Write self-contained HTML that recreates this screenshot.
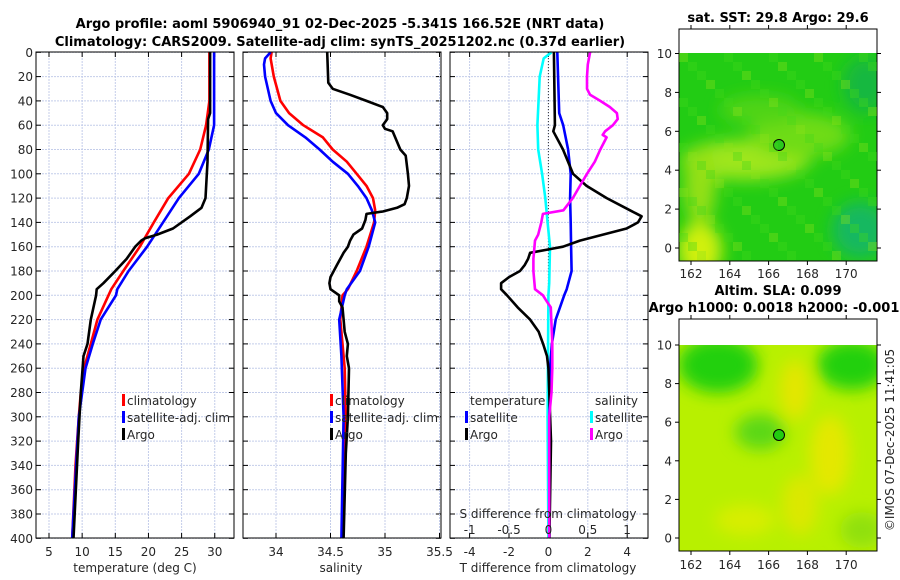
<!DOCTYPE html>
<html><head><meta charset="utf-8"><style>
html,body{margin:0;padding:0;background:#fff;}
svg{display:block;font-family:"DejaVu Sans","Liberation Sans",sans-serif;}
.t{font-size:12px;fill:#262626;}
.b{font-weight:bold;font-size:13px;fill:#000;}
</style></head><body>
<svg id="c" width="900" height="580" viewBox="0 0 900 580" xmlns="http://www.w3.org/2000/svg">
<defs>
<filter id="bl" x="-50%" y="-50%" width="200%" height="200%"><feGaussianBlur stdDeviation="8"/></filter>
<clipPath id="m1c"><rect x="679" y="53" width="198" height="208"/></clipPath>
<clipPath id="m2c"><rect x="679" y="345" width="198" height="206"/></clipPath>
</defs>
<text class="b" x="340" y="28" text-anchor="middle">Argo profile: aoml 5906940_91 02-Dec-2025 -5.341S 166.52E (NRT data)</text>
<text class="b" x="340" y="46" text-anchor="middle">Climatology: CARS2009. Satellite-adj clim: synTS_20251202.nc (0.37d earlier)</text>
<g id="plots"></g>
<!-- Map 1 -->
<g>
<rect x="679" y="29" width="198" height="232" fill="#fff" stroke="#000"/>
<g clip-path="url(#m1c)">
<rect x="679" y="53" width="198" height="208" fill="#22cc14"/>
<g filter="url(#bl)">
<ellipse cx="745" cy="160" rx="65" ry="20" fill="#9ee61a"/>
<ellipse cx="800" cy="135" rx="50" ry="22" fill="#6edc18"/>
<ellipse cx="760" cy="110" rx="40" ry="15" fill="#50d418"/>
<ellipse cx="700" cy="250" rx="22" ry="28" fill="#d0f010"/>
<ellipse cx="700" cy="185" rx="16" ry="40" fill="#94e018"/>
<ellipse cx="860" cy="230" rx="28" ry="28" fill="#14b860"/>
<ellipse cx="865" cy="85" rx="22" ry="28" fill="#18b840"/>
</g>
</g>
<rect x="679" y="29" width="198" height="232" fill="none" stroke="#000"/>
<circle cx="779" cy="145" r="5.5" fill="#2ac81c" stroke="#000"/>
<text class="b" x="778" y="22" text-anchor="middle">sat. SST: 29.8 Argo: 29.6</text>
</g>
<!-- Map 2 -->
<g>
<rect x="679" y="319" width="198" height="232" fill="#fff" stroke="#000"/>
<g clip-path="url(#m2c)">
<rect x="679" y="345" width="198" height="206" fill="#b8f000"/>
<g filter="url(#bl)">
<ellipse cx="718" cy="365" rx="40" ry="28" fill="#20d010"/>
<ellipse cx="852" cy="365" rx="35" ry="25" fill="#20d010"/>
<ellipse cx="760" cy="432" rx="25" ry="18" fill="#5cd818"/>
<ellipse cx="830" cy="455" rx="20" ry="40" fill="#e4e800"/>
<ellipse cx="795" cy="390" rx="15" ry="30" fill="#e4e600"/>
<ellipse cx="800" cy="505" rx="18" ry="30" fill="#dce800"/>
<ellipse cx="745" cy="520" rx="30" ry="15" fill="#d8ee00"/>
<ellipse cx="862" cy="530" rx="22" ry="18" fill="#90e010"/>
</g>
</g>
<rect x="679" y="319" width="198" height="232" fill="none" stroke="#000"/>
<circle cx="779" cy="435" r="5.5" fill="#22cc10" stroke="#000"/>
<text class="b" x="778" y="295" text-anchor="middle">Altim. SLA: 0.099</text>
<text class="b" x="774" y="312" text-anchor="middle">Argo h1000: 0.0018 h2000: -0.001</text>
</g>
<text class="t" transform="translate(894,440) rotate(-90)" text-anchor="middle">©IMOS 07-Dec-2025 11:41:05</text>
</svg>
<script>
// ---- data ----
const depthTicks=[0,20,40,60,80,100,120,140,160,180,200,220,240,260,280,300,320,340,360,380,400];
const tempTicks=[5,10,15,20,25,30];
const salTicks=[34,34.5,35,35.5];
const tdTicks=[-4,-2,0,2,4];
const sdTicks=[-1,-0.5,0,0.5,1];
const sdTickLabels=["-1","-0.5","0","0.5","1"];
const tClimDepth=[0,40,60,80,100,120,140,160,180,195,220,240,260,280,300,340,400];
const tClim=[29.2,29.2,28.7,27.8,26.1,23.0,20.8,18.7,16.2,14.4,12.3,11.3,10.3,9.8,9.5,9.0,8.5];
const tSatDepth=[0,60,80,100,120,140,160,180,195,200,220,240,260,280,300,400];
const tSat=[29.9,29.9,29.1,27.6,24.6,22.2,19.8,17.0,15.3,15.1,12.8,11.6,10.5,10.0,9.5,8.5];
const tArgoDepth=[0,50,55,90,120,128,135,145,150,153,155,160,170,180,190,195,200,220,240,250,280,320,400];
const tArgo=[29.3,29.3,29.0,28.9,28.6,28.0,26.3,23.7,21.3,19.5,18.9,18.0,16.7,15.0,13.2,12.2,12.1,11.3,10.8,10.2,9.8,9.4,8.7];
const sClimDepth=[0,5,20,40,50,60,70,80,90,100,110,120,130,140,160,180,195,200,220,240,260,300,400];
const sClim=[33.96,33.95,33.98,34.04,34.12,34.25,34.43,34.52,34.65,34.74,34.83,34.89,34.91,34.9,34.83,34.74,34.66,34.61,34.59,34.61,34.63,34.64,34.61];
const sSatDepth=[0,5,10,20,40,50,60,70,80,90,100,110,120,130,140,160,180,195,200,220,250,300,400];
const sSat=[33.95,33.9,33.89,33.9,33.95,34.0,34.11,34.27,34.4,34.52,34.66,34.75,34.83,34.88,34.91,34.85,34.77,34.65,34.63,34.58,34.6,34.62,34.6];
const sArgoDepth=[0,25,30,35,40,45,50,55,60,63,65,80,85,100,110,120,125,128,131,133,138,145,150,155,160,165,175,185,190,195,200,205,210,230,240,250,260,300,330,400];
const sArgo=[34.47,34.48,34.52,34.68,34.83,34.98,35.02,35.02,34.98,35.0,35.07,35.14,35.19,35.21,35.22,35.2,35.18,35.11,34.98,34.83,34.82,34.79,34.71,34.68,34.66,34.62,34.56,34.5,34.49,34.5,34.58,34.58,34.61,34.63,34.66,34.65,34.67,34.66,34.64,34.62];
const dSsatDepth=[0,5,20,60,80,100,120,140,160,190,200,300,400];
const dSsat=[0.04,-0.06,-0.11,-0.14,-0.13,-0.08,-0.04,-0.01,0.02,0.01,0,-0.01,0];
const dTsatDepth=[0,50,60,80,100,120,140,160,180,195,200,220,240,260,300,400];
const dTsat=[0.45,0.55,0.75,1.0,1.13,1.1,1.13,1.15,1.18,0.93,0.8,0.37,0.18,0.08,0.05,0.05];
const dTargoDepth=[0,60,65,80,100,110,120,130,135,140,145,150,155,160,162,165,170,175,180,185,190,195,200,210,220,230,240,250,260,320,400];
const dTargo=[0.28,0.33,0.25,0.74,1.25,1.94,2.96,4.14,4.73,4.55,3.97,2.77,1.6,0.74,0.08,-0.93,-1.03,-1.2,-1.44,-2.0,-2.4,-2.4,-2.1,-1.56,-0.93,-0.49,-0.27,-0.07,0,0.13,0.05];
const dSargoDepth=[0,10,20,30,35,40,45,50,55,60,65,68,70,80,90,100,110,120,125,130,133,140,150,155,170,180,195,200,205,210,240,260,280,300,400];
const dSargo=[0.53,0.5,0.49,0.49,0.53,0.66,0.78,0.87,0.88,0.82,0.72,0.69,0.74,0.66,0.59,0.49,0.4,0.31,0.25,0.19,-0.07,-0.09,-0.13,-0.17,-0.19,-0.19,-0.17,-0.07,-0.02,0.03,0.05,0.05,0.04,0.01,0.01];
const mapLatTicks=[0,2,4,6,8,10];
const mapLonTicks=[162,164,166,168,170];

// ---- scales ----
const Y=d=>52.3+d*1.215;
const XT=t=>49+(t-5)*6.63;
const XS=s=>276+(s-34)*109;
const XD=t=>548.4+t*19.7;
const XSD=s=>548.4+s*78.7;
const NS="http://www.w3.org/2000/svg";
const root=document.getElementById('plots');
function mk(tag,at,parent){const e=document.createElementNS(NS,tag);for(const k in at)e.setAttribute(k,at[k]);(parent||root).appendChild(e);return e;}

const panels=[
 {x0:36,x1:234,name:'temperature-panel',ticks:tempTicks,sx:XT,label:'temperature (deg C)',lx:135},
 {x0:243,x1:441,name:'salinity-panel',ticks:salTicks,sx:XS,label:'salinity',lx:341},
 {x0:450,x1:648,name:'difference-panel',ticks:tdTicks,sx:XD,label:'T difference from climatology',lx:548}
];
panels.forEach((p,pi)=>{
 const g=mk('g',{});
 
 
 depthTicks.forEach(d=>{
  const l=mk('line',{x1:p.x0,x2:p.x1,y1:Y(d),y2:Y(d),stroke:'#c4cdea','stroke-width':1,'stroke-dasharray':'2,1'},g);
  
  
  mk('line',{x1:p.x0,x2:p.x0+5,y1:Y(d),y2:Y(d),stroke:'#000'},g);
  mk('line',{x1:p.x1,x2:p.x1-5,y1:Y(d),y2:Y(d),stroke:'#000'},g);
  if(pi===0){
   const t=mk('text',{x:p.x0-3,y:Y(d)+4.5,'text-anchor':'end',class:'t'},g);
   t.textContent=d;
   
   
  }
 });
 p.ticks.forEach(v=>{
  const x=p.sx(v);
  const l=mk('line',{x1:x,x2:x,y1:52,y2:538,stroke:'#c4cdea','stroke-width':1,'stroke-dasharray':'2,1'},g);
  
  
  mk('line',{x1:x,x2:x,y1:538,y2:533,stroke:'#000'},g);
  mk('line',{x1:x,x2:x,y1:52,y2:57,stroke:'#000'},g);
  const t=mk('text',{x:x,y:556,'text-anchor':'middle',class:'t'},g);
  t.textContent=v;
  
  
 });
 const lab=mk('text',{x:p.lx,y:572,'text-anchor':'middle',class:'t'},g);
 lab.textContent=p.label;
 
 
 p.g=g;
});
function line(xs,ds,sx,col,name,g,w){
 const pts=xs.map((v,i)=>sx(v).toFixed(1)+','+Y(ds[i]).toFixed(1)).join(' ');
 const e=mk('polyline',{points:pts,fill:'none',stroke:col,'stroke-width':w||2.6,'stroke-linejoin':'round'},g);
 
 
}
const z=mk('line',{x1:XD(0),x2:XD(0),y1:52,y2:538,stroke:'#333','stroke-dasharray':'1,2'},panels[2].g);


line(tClim,tClimDepth,XT,'#f00','temp-climatology-line',panels[0].g);
line(tSat,tSatDepth,XT,'#00f','temp-satellite-line',panels[0].g);
line(tArgo,tArgoDepth,XT,'#000','temp-argo-line',panels[0].g);
line(sClim,sClimDepth,XS,'#f00','sal-climatology-line',panels[1].g);
line(sSat,sSatDepth,XS,'#00f','sal-satellite-line',panels[1].g);
line(sArgo,sArgoDepth,XS,'#000','sal-argo-line',panels[1].g);
line(dSsat,dSsatDepth,XSD,'#0ff','sdiff-satellite-line',panels[2].g);
line(dTsat,dTsatDepth,XD,'#00f','tdiff-satellite-line',panels[2].g);
line(dTargo,dTargoDepth,XD,'#000','tdiff-argo-line',panels[2].g);
line(dSargo,dSargoDepth,XSD,'#f0f','sdiff-argo-line',panels[2].g);
const st=mk('text',{x:548,y:518,'text-anchor':'middle',class:'t'},panels[2].g);
st.textContent='S difference from climatology';


sdTicks.forEach((v,i)=>{
 const t=mk('text',{x:XSD(v),y:534,'text-anchor':'middle',class:'t'},panels[2].g);
 t.textContent=sdTickLabels[i];
 
 
});
panels.forEach(p=>{mk('rect',{x:p.x0,y:52,width:p.x1-p.x0,height:486,fill:'none',stroke:'#000'},p.g);});
function leg(g,x,y,col,txt,name){
 mk('rect',{x:x,y:y-11,width:3,height:12,fill:col},g);
 const t=mk('text',{x:x+5,y:y,class:'t'},g);
 t.textContent=txt;
 
 
}
[[panels[0].g,122],[panels[1].g,330]].forEach(([g,x])=>{
 leg(g,x,405,'#f00','climatology','legend-climatology');
 leg(g,x,422,'#00f','satellite-adj. clim','legend-satellite-adj');
 leg(g,x,439,'#000','Argo','legend-argo');
});
const g3=panels[2].g;
const lt=mk('text',{x:470,y:405,class:'t'},g3);lt.textContent='temperature';


const ls=mk('text',{x:595,y:405,class:'t'},g3);ls.textContent='salinity';


leg(g3,465,422,'#00f','satellite','legend-t-satellite');
leg(g3,465,439,'#000','Argo','legend-t-argo');
leg(g3,590,422,'#0ff','satellite','legend-s-satellite');
leg(g3,590,439,'#f0f','Argo','legend-s-argo');
const svg=document.getElementById('c');
[[248,19.45,274,29,261],[538,19.3,565,319,551]].forEach(([y0,sc,ly,top,bot],mi)=>{
 const g=mk('g',{},svg);
 
 
 mapLatTicks.forEach(v=>{
  const y=y0-v*sc;
  mk('line',{x1:679,x2:675,y1:y,y2:y,stroke:'#000'},g);
  mk('line',{x1:877,x2:881,y1:y,y2:y,stroke:'#000'},g);
  const t=mk('text',{x:672,y:y+4.5,'text-anchor':'end',class:'t'},g);
  t.textContent=v;
  
  
 });
 mapLonTicks.forEach(v=>{
  const x=691+(v-162)*19.4;
  mk('line',{x1:x,x2:x,y1:bot,y2:bot+4,stroke:'#000'},g);
  mk('line',{x1:x,x2:x,y1:top,y2:top-4,stroke:'#000'},g);
  const t=mk('text',{x:x,y:ly+4,'text-anchor':'middle',class:'t'},g);
  t.textContent=v;
  
  
 });
});
// speckle texture on sst map
const sp=mk('g',{'clip-path':'url(#m1c)',opacity:0.35},svg);


for(let i=0;i<22;i++){for(let j=0;j<23;j++){
 if(((i*7+j*13)%5)===0){mk('rect',{x:679+i*9,y:53+j*9,width:9,height:9,fill:((i+j)%3)?'#44d81a':'#8ee21a'},sp);}
}}
</script>
</body></html>
